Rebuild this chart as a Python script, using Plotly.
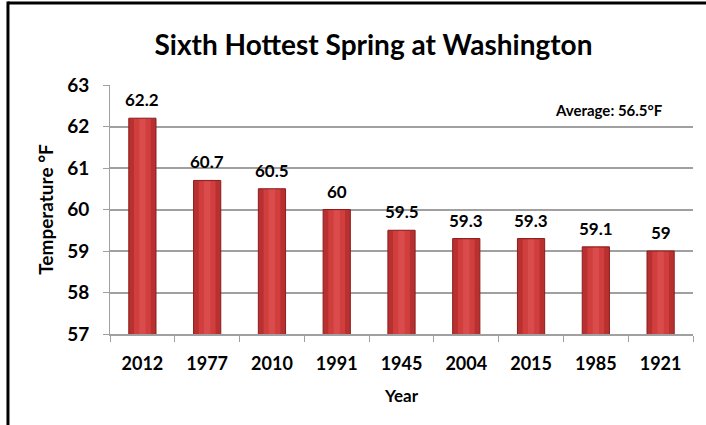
import plotly.graph_objects as go

years = ["2012", "1977", "2010", "1991", "1945", "2004", "2015", "1985", "1921"]
temps = [62.2, 60.7, 60.5, 60, 59.5, 59.3, 59.3, 59.1, 59]
labels = ["62.2", "60.7", "60.5", "60", "59.5", "59.3", "59.3", "59.1", "59"]
y_ticks = [57, 58, 59, 60, 61, 62, 63]

FONT = "Lato, 'Open Sans', sans-serif"
BOLD = dict(family=FONT, color="#000000", weight="bold")

fig = go.Figure()
# main cylinder body
fig.add_trace(go.Bar(
    x=years, y=temps, width=0.42,
    marker=dict(color="#b8302f", line=dict(color="#8a1d1c", width=1)),
    hoverinfo="skip", showlegend=False,
))
# lighter highlight bands for shading
fig.add_trace(go.Bar(
    x=years, y=[t - 0.02 for t in temps], width=0.26,
    marker=dict(color="#d03e3e", line=dict(width=0)),
    hoverinfo="skip", showlegend=False,
))
fig.add_trace(go.Bar(
    x=years, y=[t - 0.02 for t in temps], width=0.1,
    marker=dict(color="#da4b4b", line=dict(width=0)),
    hoverinfo="skip", showlegend=False,
))

# data labels (category axis: annotations use the category index)
annotations = [
    dict(x=i, y=t, xref="x", yref="y", text=lab, showarrow=False,
         xanchor="center", yanchor="bottom", yshift=6,
         font=dict(BOLD, size=17))
    for i, (t, lab) in enumerate(zip(temps, labels))
]
annotations.append(dict(
    text="Average: 56.5°F", xref="paper", yref="paper",
    x=0.952, y=0.9, xanchor="right", yanchor="middle", showarrow=False,
    font=dict(BOLD, size=15),
))

fig.update_layout(
    width=706, height=425,
    barmode="overlay",
    paper_bgcolor="white", plot_bgcolor="white",
    margin=dict(l=110, r=13, t=85, b=91),
    font=dict(family=FONT, color="#000000"),
    title=dict(text="Sixth Hottest Spring at Washington",
               x=0.529, xanchor="center", y=0.894, yanchor="middle",
               font=dict(BOLD, size=28)),
    xaxis=dict(
        type="category", categoryorder="array", categoryarray=years,
        range=[-0.5, len(years) - 0.5],
        tickson="boundaries", ticks="outside", ticklen=6,
        tickcolor="#a0a0a0", showline=True, linecolor="#a0a0a0", linewidth=2,
        showgrid=False,
        tickfont=dict(BOLD, size=18), ticklabelstandoff=12,
        title=dict(text="Year", font=dict(BOLD, size=17), standoff=18),
    ),
    yaxis=dict(
        range=[57, 63], tickvals=y_ticks, ticks="outside", ticklen=6,
        tickcolor="#a0a0a0", showgrid=True, gridcolor="#a0a0a0", gridwidth=2,
        showline=True, linecolor="#a0a0a0", linewidth=1, zeroline=False,
        tickfont=dict(BOLD, size=19), ticklabelstandoff=10,
        title=dict(text="Temperature °F", font=dict(BOLD, size=19), standoff=8),
    ),
    annotations=annotations,
    shapes=[
        dict(type="line", xref="paper", yref="paper",
             x0=-0.175, x1=1.1, y0=1.329, y1=1.329,
             line=dict(color="#000000", width=3)),
        dict(type="line", xref="paper", yref="paper",
             x0=-0.175, x1=-0.175, y0=1.335, y1=-0.4,
             line=dict(color="#000000", width=3)),
    ],
)

fig.write_html(
    "out.html",
    config={"displayModeBar": False},
    post_script="document.body.style.margin='0';document.body.style.overflow='hidden';",
)
